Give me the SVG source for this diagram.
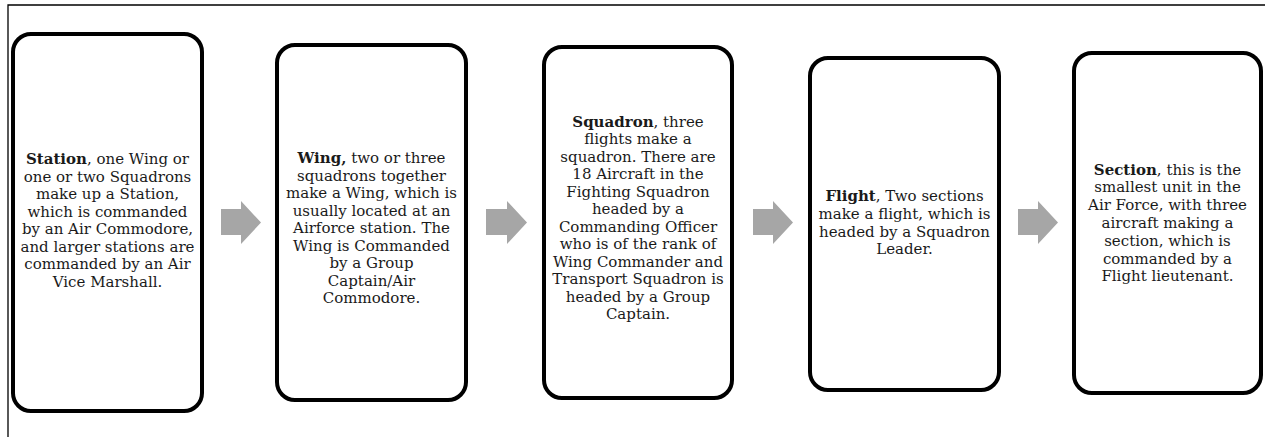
<svg xmlns="http://www.w3.org/2000/svg" width="1265" height="437" viewBox="0 0 1265 437">
<style>
.box{fill:#fff;stroke:#000;stroke-width:4}
.t{font-family:"DejaVu Serif","Liberation Serif",serif;font-size:15px;fill:#1a1a1a;text-anchor:middle}
.b{font-weight:bold}
.arr{fill:#a6a6a6}
.frame{fill:none;stroke:#000;stroke-width:1.3}
</style>
<rect width="1265" height="437" fill="#fff"/>
<path class="frame" d="M8,437 V5 H1265"/>
<g id="connectors">
<polygon class="arr" points="221,209 241,209 241,201 261,222.5 241,244 241,235 221,235"/>
<polygon class="arr" points="486,209 507,209 507,201 527,222.5 507,244 507,235 486,235"/>
<polygon class="arr" points="753,209 773,209 773,201 793,222.5 773,244 773,235 753,235"/>
<polygon class="arr" points="1018,209 1038,209 1038,201 1058,222.5 1038,244 1038,235 1018,235"/>
</g>
<g id="station">
<rect class="box" x="13" y="34" width="189" height="377" rx="18"/>
<text class="t" y="164"><tspan x="107.5"><tspan class="b">Station</tspan>, one Wing or</tspan><tspan x="107.5" dy="17.5">one or two Squadrons</tspan><tspan x="107.5" dy="17.5">make up a Station,</tspan><tspan x="107.5" dy="17.5">which is commanded</tspan><tspan x="107.5" dy="17.5">by an Air Commodore,</tspan><tspan x="107.5" dy="17.5">and larger stations are</tspan><tspan x="107.5" dy="17.5">commanded by an Air</tspan><tspan x="107.5" dy="17.5">Vice Marshall.</tspan></text>
</g>
<g id="wing">
<rect class="box" x="277" y="45" width="189" height="355" rx="18"/>
<text class="t" y="163"><tspan x="371.5"><tspan class="b">Wing,</tspan> two or three</tspan><tspan x="371.5" dy="17.5">squadrons together</tspan><tspan x="371.5" dy="17.5">make a Wing, which is</tspan><tspan x="371.5" dy="17.5">usually located at an</tspan><tspan x="371.5" dy="17.5">Airforce station. The</tspan><tspan x="371.5" dy="17.5">Wing is Commanded</tspan><tspan x="371.5" dy="17.5">by a Group</tspan><tspan x="371.5" dy="17.5">Captain/Air</tspan><tspan x="371.5" dy="17.5">Commodore.</tspan></text>
</g>
<g id="squadron">
<rect class="box" x="544" y="47" width="188" height="351" rx="18"/>
<text class="t" y="126.5"><tspan x="638"><tspan class="b">Squadron</tspan>, three</tspan><tspan x="638" dy="17.5">flights make a</tspan><tspan x="638" dy="17.5">squadron. There are</tspan><tspan x="638" dy="17.5">18 Aircraft in the</tspan><tspan x="638" dy="17.5">Fighting Squadron</tspan><tspan x="638" dy="17.5">headed by a</tspan><tspan x="638" dy="17.5">Commanding Officer</tspan><tspan x="638" dy="17.5">who is of the rank of</tspan><tspan x="638" dy="17.5">Wing Commander and</tspan><tspan x="638" dy="17.5">Transport Squadron is</tspan><tspan x="638" dy="17.5">headed by a Group</tspan><tspan x="638" dy="17.5">Captain.</tspan></text>
</g>
<g id="flight">
<rect class="box" x="810" y="58" width="189" height="332" rx="18"/>
<text class="t" y="201"><tspan x="904.5"><tspan class="b">Flight</tspan>, Two sections</tspan><tspan x="904.5" dy="17.8">make a flight, which is</tspan><tspan x="904.5" dy="17.8">headed by a Squadron</tspan><tspan x="904.5" dy="17.8">Leader.</tspan></text>
</g>
<g id="section">
<rect class="box" x="1074" y="53" width="187" height="340" rx="18"/>
<text class="t" y="174.5"><tspan x="1167.5"><tspan class="b">Section</tspan>, this is the</tspan><tspan x="1167.5" dy="17.8">smallest unit in the</tspan><tspan x="1167.5" dy="17.8">Air Force, with three</tspan><tspan x="1167.5" dy="17.8">aircraft making a</tspan><tspan x="1167.5" dy="17.8">section, which is</tspan><tspan x="1167.5" dy="17.8">commanded by a</tspan><tspan x="1167.5" dy="17.8">Flight lieutenant.</tspan></text>
</g>
</svg>
